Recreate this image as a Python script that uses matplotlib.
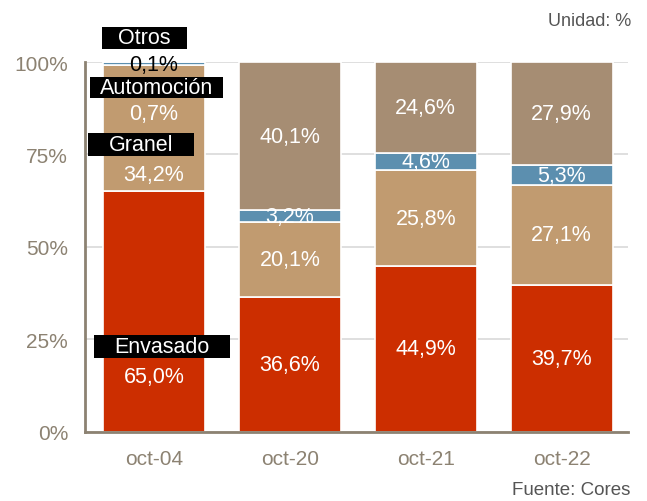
import matplotlib.pyplot as plt
from matplotlib.patches import Rectangle
import numpy as np

plt.rcParams['font.family'] = ['Liberation Sans', 'DejaVu Sans']

fechas = ["oct-04", "oct-20", "oct-21", "oct-22"]
envasado = [65.0, 36.6, 44.9, 39.7]
granel = [34.2, 20.1, 25.8, 27.1]
automocion = [0.7, 3.2, 4.6, 5.3]
otros = [0.1, 40.1, 24.6, 27.9]
series = ["Envasado", "Granel", "Automoción", "Otros"]
colores = ["#CC2E00", "#C19B70", "#5C8FAF", "#A68D73"]

gris = "#8C8272"
fig = plt.figure(figsize=(6.47, 5.02), dpi=100)
ax = fig.add_axes([0.131, 0.1375, 0.84, 0.737])

x = np.arange(len(fechas))
datos = [envasado, granel, automocion, otros]
base = np.zeros(len(fechas))
for vals, col in zip(datos, colores):
    vals = np.array(vals)
    ax.bar(x, vals, 0.75, bottom=base, color=col, edgecolor="white", linewidth=1.2, zorder=2)
    base += vals

# value labels for bars 2..4
base = np.zeros(len(fechas))
for vals in datos:
    for i in range(1, len(fechas)):
        ax.text(x[i], base[i] + vals[i] / 2, f"{vals[i]:.1f}%".replace(".", ","),
                ha="center", va="center", color="white", fontsize=15.5, zorder=3)
    base += np.array(vals)

# first bar: category names in black boxes + values
# (name, box x0, x1, y0, y1, text x, text y, value, value y, value colour)
etiquetas = [
    ("Otros", -0.382, 0.243, 103.5, 109.5, -0.07, 106.5, "0,1%", 99.2, "black"),
    ("Automoción", -0.471, 0.507, 90.3, 95.9, 0.018, 93.1, "0,7%", 86.0, "white"),
    ("Granel", -0.485, 0.294, 74.6, 80.8, -0.096, 77.7, "34,2%", 69.7, "white"),
    ("Envasado", -0.441, 0.559, 20.0, 26.2, 0.059, 23.1, "65,0%", 15.1, "white"),
]
for nombre, x0, x1, y0, y1, tx, ty, val, vy, vc in etiquetas:
    ax.add_patch(Rectangle((x0, y0), x1 - x0, y1 - y0, facecolor="black",
                           edgecolor="none", zorder=4, clip_on=False))
    ax.text(tx, ty, nombre, ha="center", va="center", color="white",
            fontsize=15.5, zorder=5, clip_on=False)
    ax.text(x[0], vy, val, ha="center", va="center", color=vc, fontsize=15.5, zorder=4)

ax.set_xlim(-0.51, 3.49)
ax.set_ylim(0, 100)
ax.set_yticks([0, 25, 50, 75, 100])
ax.set_yticklabels(["0%", "25%", "50%", "75%", "100%"])
ax.set_xticks(x)
ax.set_xticklabels(fechas)
ax.tick_params(axis="both", colors=gris, labelsize=15, length=0)
ax.tick_params(axis="y", pad=12)
ax.tick_params(axis="x", pad=12)
ax.yaxis.grid(True, color="#D9D9D9", linewidth=1.2, zorder=0)
ax.set_axisbelow(True)
for s in ["top", "right"]:
    ax.spines[s].set_visible(False)
for s in ["left", "bottom"]:
    ax.spines[s].set_color(gris)
    ax.spines[s].set_linewidth(2)

fig.text(0.975, 0.958, "Unidad: %", ha="right", va="center", color="#555555", fontsize=13)
fig.text(0.975, 0.022, "Fuente: Cores", ha="right", va="center", color="#555555", fontsize=13.5)

fig.savefig("out.png", dpi=100)
